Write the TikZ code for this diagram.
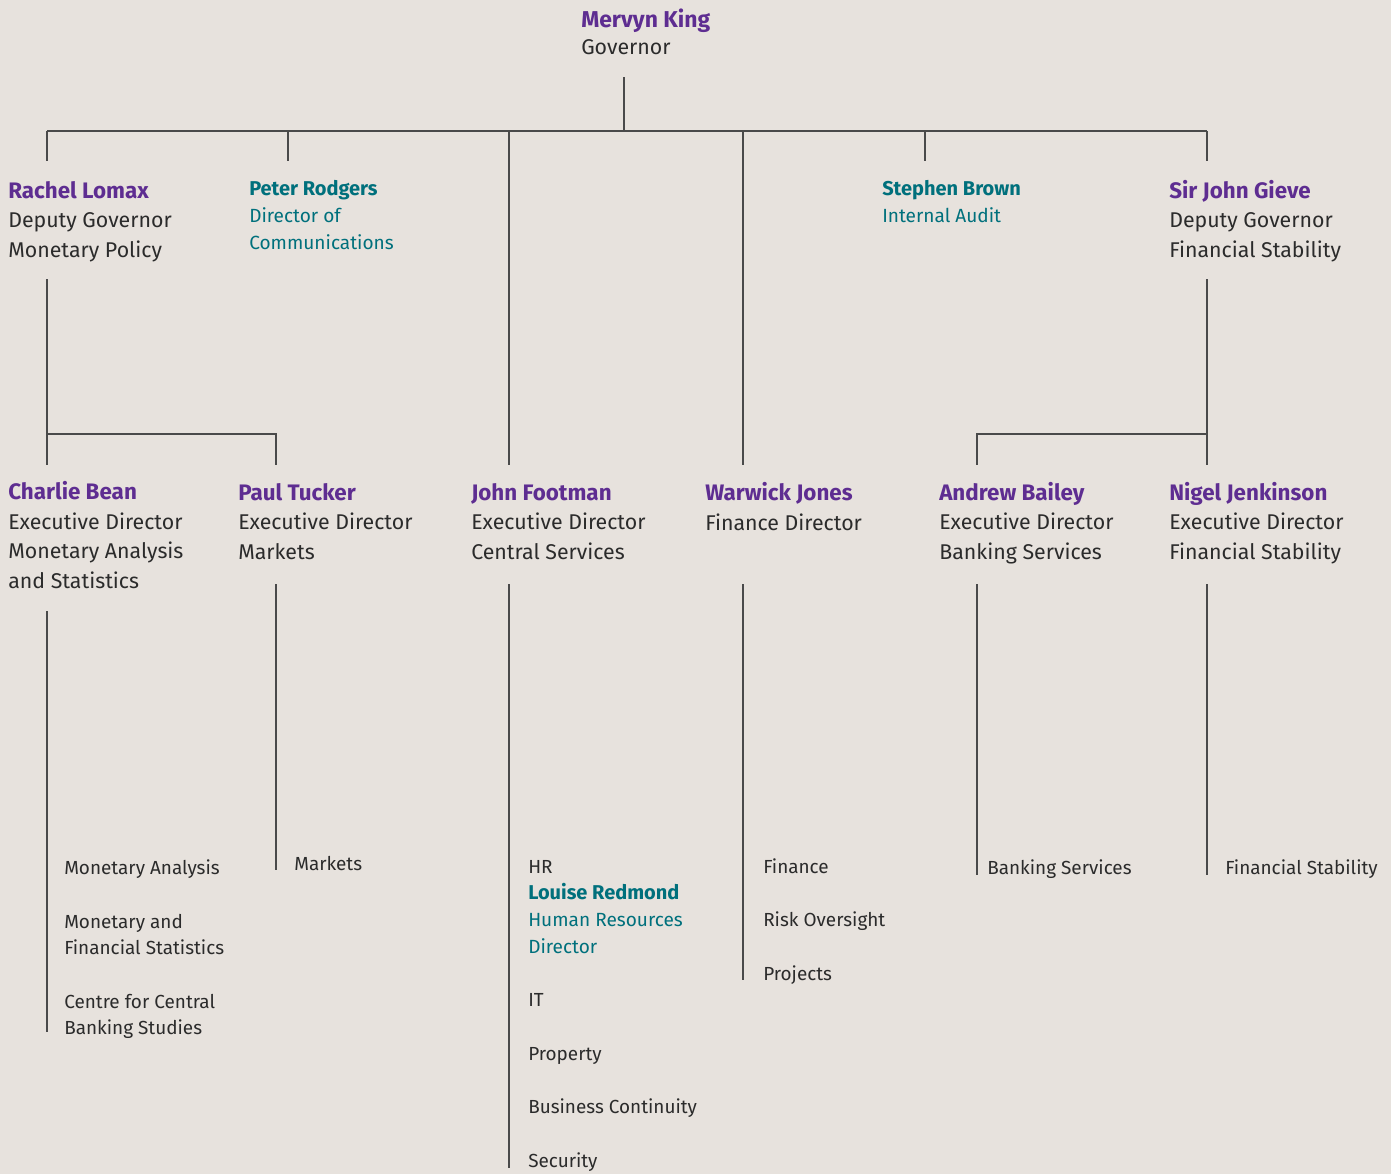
\documentclass[tikz,border=0pt]{standalone}
\usepackage{fontspec}
\setmainfont{Fira Sans}
\definecolor{boepurple}{HTML}{5E2D91}
\definecolor{boeteal}{HTML}{00707C}
\definecolor{boetext}{HTML}{2B2B2B}
\definecolor{boeline}{HTML}{4A4A4A}
\definecolor{boebg}{HTML}{E7E2DD}
\newcommand{\who}[1]{{\fontsize{16.8}{22.1}\selectfont\bfseries\color{boepurple}#1}}
\newcommand{\aide}[1]{{\fontsize{15}{19.9}\selectfont\bfseries #1}}
\tikzset{
  person/.style={anchor=base west, align=left, inner sep=0pt, text=boetext,
    font=\fontsize{16}{22.1}\selectfont},
  staff/.style={anchor=base west, align=left, inner sep=0pt, text=boeteal,
    font=\fontsize{14.3}{19.9}\selectfont},
  unit/.style={anchor=base west, align=left, inner sep=0pt, text=boetext,
    font=\fontsize{14.2}{19.5}\selectfont},
  link/.style={draw=boeline, line width=0.8pt}
}
\begin{document}
\begin{tikzpicture}[x=0.75pt,y=-0.75pt]
  \fill[boebg] (0,0) rectangle (1391,1174);
  \useasboundingbox (0,0) rectangle (1391,1174);
  % governor and the bus under him (nodes sit on their last baseline)
  \node[person, font=\fontsize{16}{20.25}\selectfont] (king) at (581,54) {{\fontsize{17.2}{20.25}\selectfont\bfseries\color{boepurple}Mervyn King}\\Governor};
  \coordinate (kingfoot) at (624,77);
  \coordinate (kingbus) at (624,131);
  \coordinate (busw) at (47,131);
  \coordinate (buse) at (1207,131);
  \draw[link] (kingfoot) -- (kingbus);
  \draw[link] (busw) -- (buse);
  \foreach \n/\x/\yb in {lomax/47/161, rodgers/288/161, footman/509/465,
      jones/743/465, brown/925/161, gieve/1207/161}{
    \coordinate (up\n) at (\x,131);
    \coordinate (dn\n) at (\x,\yb);
    \draw[link] (up\n) -- (dn\n);
  }
  % first row
  \node[person] (lomax) at (8,257) {\who{Rachel Lomax}\\Deputy Governor\\Monetary Policy};
  \node[staff] (rodgers) at (249,249) {\aide{Peter Rodgers}\\Director of\\Communications};
  \node[staff] (brown) at (882,222) {\aide{Stephen Brown}\\Internal Audit};
  \node[person] (gieve) at (1169,257) {\who{Sir John Gieve}\\Deputy Governor\\Financial Stability};
  % deputies to executive directors
  \coordinate (lomaxfoot) at (47,279);
  \coordinate (lomaxbus) at (47,434);
  \coordinate (beantop) at (47,465);
  \coordinate (tuckerbus) at (276,434);
  \coordinate (tuckertop) at (276,465);
  \draw[link] (lomaxfoot) -- (beantop);
  \draw[link] (lomaxbus) -- (tuckerbus) -- (tuckertop);
  \coordinate (gievefoot) at (1207,279);
  \coordinate (gievebus) at (1207,434);
  \coordinate (jenkinsontop) at (1207,465);
  \coordinate (baileybus) at (977,434);
  \coordinate (baileytop) at (977,465);
  \draw[link] (gievefoot) -- (jenkinsontop);
  \draw[link] (gievebus) -- (baileybus) -- (baileytop);
  % second row
  \node[person] (bean) at (8,588) {\who{Charlie Bean}\\Executive Director\\Monetary Analysis\\and Statistics};
  \node[person] (tucker) at (238,559) {\who{Paul Tucker}\\Executive Director\\Markets};
  \node[person] (footman) at (471,559) {\who{John Footman}\\Executive Director\\Central Services};
  \node[person] (jones) at (705,530) {\who{Warwick Jones}\\Finance Director};
  \node[person] (bailey) at (939,559) {\who{Andrew Bailey}\\Executive Director\\Banking Services};
  \node[person] (jenkinson) at (1169,559) {\who{Nigel Jenkinson}\\Executive Director\\Financial Stability};
  % areas under each director
  \foreach \n/\x/\ya/\yb in {bean/47/611/1032, tucker/276/584/870, footman/509/584/1168,
      jones/743/584/980, bailey/977/584/875, jenkinson/1207/584/875}{
    \coordinate (\n a) at (\x,\ya);
    \coordinate (\n b) at (\x,\yb);
    \draw[link] (\n a) -- (\n b);
  }
  \node[unit] (monan) at (64,874) {Monetary Analysis};
  \node[unit] (monfin) at (64,954) {Monetary and\\Financial Statistics};
  \node[unit] (ccbs) at (64,1034) {Centre for Central\\Banking Studies};
  \node[unit] (markets) at (294,870) {Markets};
  \node[unit] (hr) at (528,873) {HR};
  \node[unit, text=boeteal, font=\fontsize{14.3}{19.9}\selectfont] (redmond) at (528,953) {\aide{Louise Redmond}\\Human Resources\\Director};
  \node[unit] (it) at (528,1006) {IT};
  \node[unit] (property) at (528,1060) {Property};
  \node[unit] (contin) at (528,1113) {Business Continuity};
  \node[unit] (security) at (528,1167) {Security};
  \node[unit] (finance) at (763,873) {Finance};
  \node[unit] (risk) at (763,926) {Risk Oversight};
  \node[unit] (projects) at (763,980) {Projects};
  \node[unit] (banking) at (987,874) {Banking Services};
  \node[unit] (finstab) at (1225,874) {Financial Stability};
\end{tikzpicture}
\end{document}
